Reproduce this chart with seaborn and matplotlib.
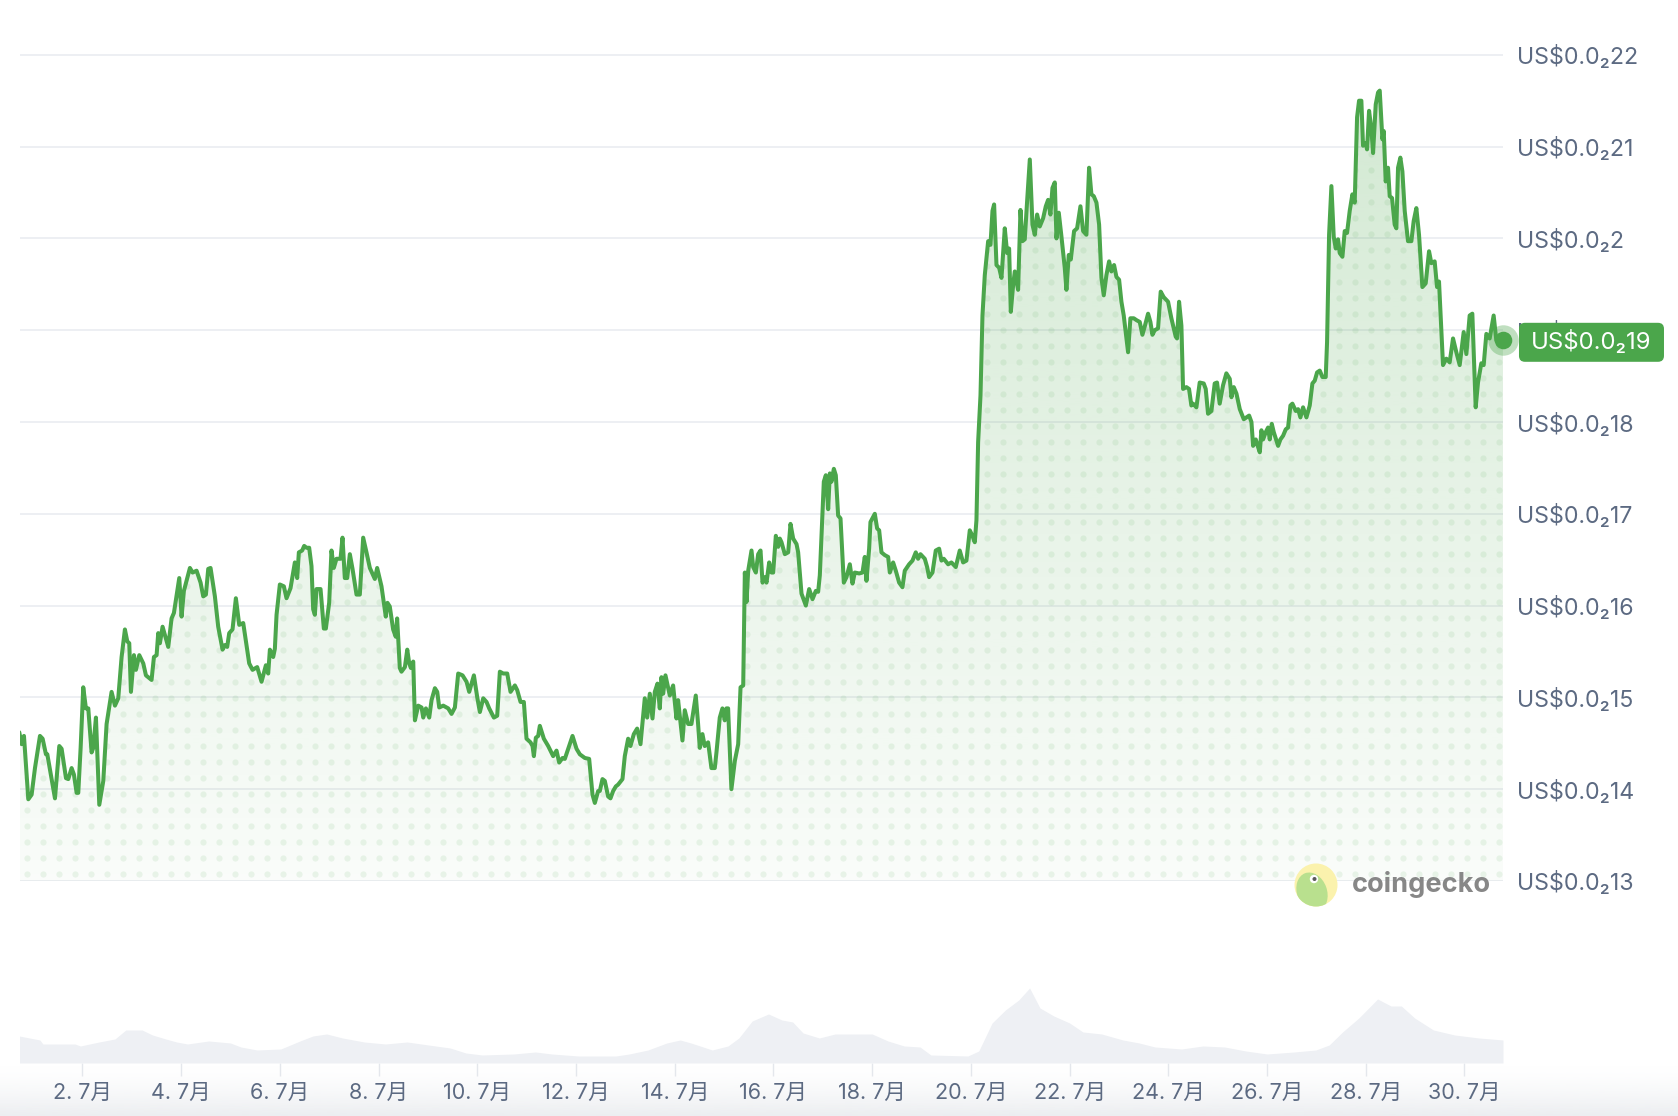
import numpy as np
import pandas as pd
import matplotlib
matplotlib.use('Agg')
from matplotlib import pyplot as plt
from matplotlib.colors import to_rgb
from matplotlib.patches import Circle, Ellipse, FancyBboxPatch
import seaborn as sns

# price (day of July, price in units of 0.00001 USD)
days = [0.722, 0.770, 0.817, 0.905, 0.972, 1.040, 1.141, 1.195, 1.262, 1.290,
        1.445, 1.533, 1.580, 1.668, 1.715, 1.782, 1.829, 1.884, 1.917, 1.965,
        2.018, 2.072, 2.120, 2.187, 2.221, 2.275, 2.343, 2.424, 2.491, 2.592,
        2.660, 2.727, 2.795, 2.862, 2.910, 2.950, 2.984, 3.045, 3.085, 3.153,
        3.234, 3.288, 3.402, 3.450, 3.504, 3.537, 3.571, 3.625, 3.740, 3.807,
        3.855, 3.963, 4.010, 4.057, 4.179, 4.233, 4.314, 4.395, 4.449, 4.503,
        4.550, 4.597, 4.685, 4.752, 4.840, 4.887, 4.934, 4.975, 5.042, 5.110,
        5.178, 5.259, 5.380, 5.448, 5.542, 5.630, 5.718, 5.765, 5.799, 5.866,
        5.900, 5.934, 6.001, 6.082, 6.136, 6.217, 6.305, 6.352, 6.386, 6.453,
        6.494, 6.541, 6.595, 6.642, 6.676, 6.710, 6.744, 6.825, 6.892, 6.933,
        7.000, 7.047, 7.094, 7.148, 7.230, 7.270, 7.317, 7.365, 7.419, 7.473,
        7.554, 7.621, 7.689, 7.756, 7.824, 7.925, 7.972, 8.060, 8.147, 8.181,
        8.228, 8.296, 8.350, 8.377, 8.431, 8.465,
        8.534, 8.582, 8.622, 8.656, 8.703, 8.737, 8.804, 8.872, 8.906, 8.960,
        9.027, 9.074, 9.142, 9.189, 9.230, 9.311, 9.412, 9.479, 9.547, 9.614,
        9.702, 9.783, 9.837, 9.932, 10.000, 10.053, 10.121, 10.188, 10.242, 10.337,
        10.404, 10.458, 10.526, 10.607, 10.674, 10.762, 10.809, 10.877, 10.944, 10.998,
        11.079, 11.120, 11.147, 11.187, 11.234, 11.268, 11.349, 11.437, 11.538, 11.606,
        11.660, 11.727, 11.774, 11.842, 11.930, 12.011, 12.078, 12.179, 12.267, 12.335,
        12.382, 12.449, 12.483, 12.537, 12.584, 12.652, 12.699, 12.753, 12.807, 12.854,
        12.942, 12.989, 13.057, 13.104, 13.172, 13.239, 13.307, 13.394, 13.442, 13.496,
        13.550, 13.597, 13.651, 13.698, 13.732, 13.766, 13.813, 13.901, 13.968, 14.036,
        14.069, 14.157, 14.204, 14.272, 14.339, 14.427, 14.474, 14.508, 14.562, 14.609,
        14.677, 14.744, 14.812, 14.846, 14.913, 14.967, 15.014, 15.048, 15.082, 15.149,
        15.219, 15.286, 15.334, 15.388, 15.421, 15.455, 15.489, 15.556, 15.590, 15.644,
        15.691, 15.739, 15.779, 15.826, 15.860, 15.914, 15.961, 15.995, 16.049, 16.096,
        16.130, 16.164, 16.231, 16.299, 16.346, 16.400, 16.468, 16.501, 16.569, 16.657,
        16.724, 16.792, 16.859, 16.906, 16.940, 16.974, 17.021, 17.062, 17.109, 17.143,
        17.176, 17.224, 17.264, 17.311, 17.359, 17.426, 17.480, 17.548, 17.602, 17.649,
        17.737, 17.804, 17.851, 17.885, 17.939, 17.966, 18.054, 18.101, 18.142, 18.189,
        18.256, 18.324, 18.358, 18.425, 18.479, 18.547, 18.614, 18.661, 18.749, 18.817,
        18.884, 18.931, 18.979, 19.066, 19.114, 19.154, 19.222, 19.289, 19.357, 19.404,
        19.451, 19.539, 19.606, 19.694, 19.775, 19.843, 19.910, 19.978, 20.032, 20.079,
        20.113,
        20.147, 20.195, 20.235, 20.282, 20.350, 20.397, 20.438, 20.471, 20.519, 20.573,
        20.620, 20.687, 20.735, 20.775, 20.809, 20.856, 20.890, 20.957, 21.005, 21.045,
        21.092, 21.140, 21.194, 21.248, 21.295, 21.342, 21.396, 21.464, 21.518, 21.565,
        21.612, 21.653, 21.700, 21.734, 21.781, 21.835, 21.902, 21.936, 21.983, 22.024,
        22.091, 22.152, 22.220, 22.274, 22.341, 22.395, 22.442, 22.490, 22.544, 22.598,
        22.645, 22.692, 22.746, 22.800, 22.847, 22.901, 22.949, 23.003, 23.050, 23.097,
        23.185, 23.232, 23.300, 23.354, 23.421, 23.475, 23.522, 23.590, 23.637, 23.678,
        23.725, 23.792, 23.846, 23.907, 23.995, 24.062, 24.150, 24.177, 24.218, 24.265,
        24.299, 24.366, 24.420, 24.467, 24.501, 24.569, 24.636, 24.717, 24.758, 24.805,
        24.873, 24.940, 24.987, 25.041, 25.109, 25.176,
        25.245, 25.279, 25.326, 25.380, 25.448, 25.529, 25.583, 25.637, 25.684, 25.718,
        25.772, 25.799, 25.853, 25.886, 25.920, 25.974, 26.021, 26.055, 26.096, 26.136,
        26.224, 26.271, 26.325, 26.379, 26.426, 26.474, 26.514, 26.582, 26.629, 26.676,
        26.730, 26.798, 26.865, 26.919, 26.966, 27.014, 27.068, 27.122, 27.189, 27.216,
        27.257, 27.304, 27.351, 27.392, 27.439, 27.473, 27.527, 27.574, 27.621, 27.675,
        27.729, 27.776, 27.824, 27.864, 27.911, 27.945, 27.999, 28.026, 28.067, 28.114,
        28.148, 28.202, 28.249, 28.283, 28.337, 28.364, 28.404, 28.451, 28.485, 28.532,
        28.586, 28.620, 28.654, 28.701, 28.742, 28.789, 28.856, 28.924, 28.971, 29.025,
        29.079, 29.147, 29.214, 29.282, 29.329, 29.396, 29.444, 29.484, 29.565, 29.633,
        29.700, 29.768, 29.835, 29.903, 29.984, 30.038, 30.105, 30.159, 30.227, 30.274,
        30.341, 30.389, 30.443, 30.510, 30.591, 30.645, 30.713, 30.780]

price = [14.62, 14.49, 14.58, 13.89, 13.94, 14.23, 14.58, 14.55, 14.38, 14.38,
         13.90, 14.47, 14.44, 14.12, 14.11, 14.23, 14.16, 13.96, 13.96, 14.45,
         15.11, 14.88, 14.88, 14.40, 14.45, 14.78, 13.83, 14.09, 14.71, 15.06,
         14.91, 14.99, 15.44, 15.74, 15.61, 15.59, 15.06, 15.46, 15.30, 15.46,
         15.37, 15.24, 15.19, 15.44, 15.46, 15.70, 15.59, 15.77, 15.55, 15.86,
         15.92, 16.30, 15.88, 16.16, 16.41, 16.36, 16.38, 16.25, 16.10, 16.12,
         16.40, 16.41, 16.10, 15.77, 15.52, 15.57, 15.55, 15.70, 15.74, 16.08,
         15.79, 15.81, 15.37, 15.30, 15.33, 15.17, 15.35, 15.26, 15.52, 15.44,
         15.53, 15.90, 16.23, 16.21, 16.08, 16.19, 16.47, 16.30, 16.58, 16.60,
         16.65, 16.63, 16.63, 16.43, 15.96, 15.90, 16.18, 16.18, 15.75, 15.75,
         16.03, 16.60, 16.41, 16.51, 16.51, 16.74, 16.30, 16.30, 16.56, 16.40,
         16.12, 16.12, 16.74, 16.58, 16.41, 16.29, 16.41, 16.21, 15.88, 16.03,
         15.99, 15.74, 15.66, 15.86, 15.32, 15.28,
         15.33, 15.52, 15.37, 15.32, 15.39, 14.75, 14.91, 14.89, 14.78, 14.88,
         14.78, 14.97, 15.10, 15.06, 14.89, 14.91, 14.88, 14.82, 14.89, 15.26,
         15.24, 15.17, 15.06, 15.24, 15.00, 14.84, 14.99, 14.95, 14.88, 14.78,
         14.80, 15.28, 15.26, 15.26, 15.06, 15.13, 15.08, 14.95, 14.95, 14.55,
         14.51, 14.47, 14.36, 14.56, 14.58, 14.69, 14.55, 14.47, 14.36, 14.42,
         14.29, 14.34, 14.33, 14.44, 14.58, 14.44, 14.38, 14.34, 14.33, 13.94,
         13.85, 13.98, 13.98, 14.11, 14.09, 13.92, 13.90, 13.98, 14.03, 14.05,
         14.11, 14.36, 14.55, 14.47, 14.60, 14.66, 14.49, 14.99, 14.78, 15.04,
         14.77, 15.06, 15.15, 14.88, 15.22, 15.04, 15.24, 15.02, 15.13, 14.77,
         14.97, 14.53, 14.86, 14.71, 14.71, 15.02, 14.71, 14.45, 14.60, 14.47,
         14.51, 14.23, 14.23, 14.40, 14.78, 14.88, 14.75, 14.88, 14.88, 14.00,
         14.31, 14.49, 15.11, 15.13, 16.36, 16.04, 16.38, 16.60, 16.42, 16.36,
         16.56, 16.60, 16.25, 16.31, 16.25, 16.47, 16.36, 16.36, 16.76, 16.64,
         16.73, 16.69, 16.56, 16.58, 16.89, 16.73, 16.67, 16.58, 16.13, 16.00,
         16.18, 16.07, 16.16, 16.15, 16.33, 16.75, 17.35, 17.42, 17.05, 17.44,
         17.35, 17.49, 17.42, 16.98, 16.95, 16.25, 16.31, 16.45, 16.24, 16.36,
         16.35, 16.36, 16.53, 16.27, 16.62, 16.91, 17.00, 16.84, 16.82, 16.58,
         16.55, 16.53, 16.36, 16.47, 16.38, 16.25, 16.20, 16.38, 16.45, 16.49,
         16.58, 16.51, 16.56, 16.51, 16.42, 16.31, 16.36, 16.60, 16.62, 16.49,
         16.51, 16.45, 16.47, 16.42, 16.60, 16.47, 16.49, 16.82, 16.76, 16.69,
         16.93,
         17.78, 18.29, 19.16, 19.60, 19.97, 19.93, 20.30, 20.37, 19.71, 19.68,
         19.57, 20.11, 19.84, 19.89, 19.20, 19.49, 19.64, 19.44, 20.31, 19.97,
         19.99, 20.41, 20.86, 20.15, 20.04, 20.26, 20.13, 20.22, 20.35, 20.42,
         20.26, 20.55, 20.61, 20.00, 20.28, 20.02, 19.68, 19.44, 19.82, 19.77,
         20.08, 20.11, 20.35, 20.08, 20.04, 20.77, 20.48, 20.46, 20.39, 20.15,
         19.57, 19.38, 19.60, 19.75, 19.64, 19.71, 19.58, 19.55, 19.31, 19.16,
         18.76, 19.13, 19.13, 19.11, 19.09, 18.95, 19.04, 19.18, 19.09, 18.95,
         19.00, 19.02, 19.42, 19.36, 19.31, 19.13, 18.93, 18.91, 19.31, 19.05,
         18.36, 18.38, 18.36, 18.18, 18.20, 18.16, 18.43, 18.42, 18.36, 18.09,
         18.12, 18.42, 18.43, 18.20, 18.40, 18.53,
         18.47, 18.27, 18.38, 18.31, 18.14, 18.03, 18.05, 18.07, 18.00, 17.74,
         17.81, 17.76, 17.67, 17.91, 17.81, 17.89, 17.94, 17.81, 17.98, 17.89,
         17.74, 17.81, 17.85, 17.92, 17.94, 18.18, 18.20, 18.12, 18.14, 18.05,
         18.16, 18.05, 18.18, 18.42, 18.45, 18.54, 18.56, 18.49, 18.49, 18.87,
         20.04, 20.57, 20.02, 19.89, 19.99, 19.84, 19.80, 20.08, 20.06, 20.30,
         20.48, 20.39, 21.32, 21.50, 21.50, 21.01, 21.04, 20.97, 21.39, 21.19,
         20.93, 21.46, 21.59, 21.61, 21.08, 21.17, 20.62, 20.77, 20.46, 20.44,
         20.15, 20.11, 20.77, 20.88, 20.73, 20.30, 19.97, 19.97, 20.19, 20.33,
         20.04, 19.47, 19.51, 19.86, 19.73, 19.75, 19.47, 19.53, 18.62, 18.69,
         18.65, 18.91, 18.76, 18.62, 18.98, 18.74, 19.16, 19.18, 18.16, 18.43,
         18.64, 18.62, 18.96, 18.91, 19.16, 18.89, 18.93, 18.89]

# trading volume (relative) at the bottom
vol_days = [0.72, 1.14, 1.20, 1.85, 1.96, 2.34, 2.66, 2.88, 3.21, 3.42,
            3.69, 3.91, 4.13, 4.56, 5.00, 5.21, 5.54, 6.02, 6.41, 6.67,
            6.95, 7.27, 7.71, 8.14, 8.58, 9.01, 9.45, 9.77, 10.10, 10.74,
            11.18, 11.51, 12.05, 12.81, 13.08, 13.46, 13.84, 14.11, 14.33, 14.76,
            15.08, 15.30, 15.57, 15.90, 16.17, 16.39, 16.60, 16.93, 17.25, 18.00,
            18.32, 18.65, 18.97, 19.19, 19.94, 20.16, 20.43, 20.70, 20.97, 21.19,
            21.40, 21.68, 22.00, 22.27, 22.65, 23.08, 23.41, 23.73, 24.27, 24.70,
            25.14, 25.57, 26.00, 26.55, 26.99, 27.26, 27.53, 27.86, 28.24, 28.51,
            28.72, 28.99, 29.37, 29.80, 30.29, 30.78]
vol = [27, 23, 19, 19, 17, 21, 24, 33, 33, 28,
       24, 21, 19, 22, 20, 16, 13, 14, 22, 27,
       29, 25, 21, 19, 21, 18, 15, 10, 8, 9,
       11, 9, 7, 7, 9, 13, 20, 23, 20, 13,
       17, 25, 42, 49, 43, 41, 30, 25, 29, 29,
       22, 17, 16, 8, 7, 12, 40, 53, 63, 75,
       55, 47, 40, 31, 29, 23, 20, 16, 14, 17,
       16, 12, 9, 11, 13, 18, 31, 45, 64, 57,
       57, 45, 33, 28, 25, 23]

tick_days = [2, 4, 6, 8, 10, 12, 14, 16, 18, 20, 22, 24, 26, 28, 30]
tick_labels = [f"{d}. 7月" for d in tick_days]
price_ticks = [13, 14, 15, 16, 17, 18, 19, 20, 21, 22]
price_labels = ["US$0.0₂13", "US$0.0₂14", "US$0.0₂15", "US$0.0₂16", "US$0.0₂17",
                "US$0.0₂18", "US$0.0₂19", "US$0.0₂2", "US$0.0₂21", "US$0.0₂22"]
last_label = "US$0.0₂19"

sns.set_theme(style='white')
plt.rcParams['font.family'] = ['Inter', 'Noto Sans CJK JP', 'DejaVu Sans']

green = '#4ba64b'
label_grey = '#5c6a82'
x0, x1 = 0.736, 30.78

df = pd.DataFrame({'day': days, 'price': price})

fig = plt.figure(figsize=(16.78, 11.16), dpi=100)
fig.patch.set_facecolor('white')

# light grey fade at the very bottom of the screenshot
bg = fig.add_axes([0, 0, 1, 1], zorder=-1)
bg.axis('off')
fade = np.zeros((100, 1, 4))
fade[..., :3] = to_rgb('#eceef1')
fade[..., 3] = np.linspace(1, 0, 100)[:, None] ** 1.5
bg.imshow(fade, extent=(0, 1, 0, 0.045), origin='lower', aspect='auto')
bg.set_xlim(0, 1)
bg.set_ylim(0, 1)

# price panel
ax = fig.add_axes([0.0119, 0.2106, 0.8838, 0.7814])
ax.set_axisbelow(True)
area = ax.fill_between(df.day, df.price, 13, color='none', lw=0)
clip = area.get_paths()[0]

shade = np.zeros((256, 1, 4))
shade[..., :3] = to_rgb(green)
shade[..., 3] = np.linspace(0.03, 0.25, 256)[:, None]
im = ax.imshow(shade, extent=(x0, x1, 13, 21.7), origin='lower', aspect='auto',
               interpolation='bilinear', zorder=1)
im.set_clip_path(clip, ax.transData)

# dotted texture inside the filled area
gx, gy = np.meshgrid(np.arange(x0 + 0.15, x1, 16 / 49.36), np.arange(13.08, 21.7, 16 / 91.8))
dots = ax.scatter(gx.ravel(), gy.ravel(), s=20, color=green, alpha=0.1, lw=0, zorder=2)
dots.set_clip_path(clip, ax.transData)

sns.lineplot(data=df, x='day', y='price', color=green, lw=2.9, ax=ax, zorder=3)

ax.scatter([days[-1]], [price[-1]], s=480, color=green, alpha=0.35, lw=0, zorder=4, clip_on=False)
ax.scatter([days[-1]], [price[-1]], s=160, color=green, lw=0, zorder=5, clip_on=False)

ax.set_xlim(x0, x1)
ax.set_ylim(13, 22.5)
ax.set_xticks([])
ax.set_xlabel('')
ax.set_ylabel('')
ax.set_yticks(price_ticks)
ax.set_yticklabels(price_labels)
ax.yaxis.tick_right()
ax.tick_params(axis='y', length=0, pad=10, labelsize=16.7, labelcolor=label_grey)
ax.grid(axis='y', color='#eceef2', lw=1.3)
ax.grid(axis='x', visible=False)
for s in ax.spines.values():
    s.set_visible(False)

# volume band
vax = fig.add_axes([0.0119, 0.0475, 0.8838, 0.0717])
vax.fill_between(vol_days, vol, 0, color='#eef0f4', lw=0)
vax.set_xlim(x0, x1)
vax.set_ylim(0, 80)
vax.set_yticks([])
vax.set_xticks(tick_days)
vax.set_xticklabels(tick_labels)
vax.tick_params(axis='x', bottom=True, length=9.5, width=1, color='#e4e7ec', pad=5,
                labelsize=15.5, labelcolor=label_grey)
vax.patch.set_alpha(0)
for s in vax.spines.values():
    s.set_visible(False)

# overlay in pixel coordinates for badge and logo
ov = fig.add_axes([0, 0, 1, 1], zorder=10)
ov.axis('off')
ov.patch.set_alpha(0)
ov.set_xlim(0, 1678)
ov.set_ylim(1116, 0)

fig.canvas.draw()
px, py = ax.transData.transform((days[-1], price[-1]))
bx, by = ov.transData.inverted().transform((px, py))
ov.add_patch(FancyBboxPatch((bx + 16, by - 17.5), 145, 39,
                            boxstyle='round,pad=0,rounding_size=6',
                            fc=green, ec='none'))
ov.text(bx + 88.5, by + 2, last_label, color='white', fontsize=17.2, ha='center', va='center')

# coingecko watermark
ov.add_patch(Circle((1316, 885), 21.5, fc='#fbf2ad', ec='none'))
head = Ellipse((1312, 892), 30, 40, angle=-20, fc='#b9e08e', ec='none')
ov.add_patch(head)
head.set_clip_path(Circle((1316, 885), 21.5, transform=ov.transData))
ov.add_patch(Circle((1314, 879), 4.2, fc='white', ec='none'))
ov.add_patch(Circle((1314.5, 879), 2.0, fc='#5a5a5a', ec='none'))
ov.text(1352, 885, 'coingecko', fontsize=19.5, fontweight='bold', color='#878787',
        ha='left', va='center')

fig.savefig('out.png', dpi=100)
